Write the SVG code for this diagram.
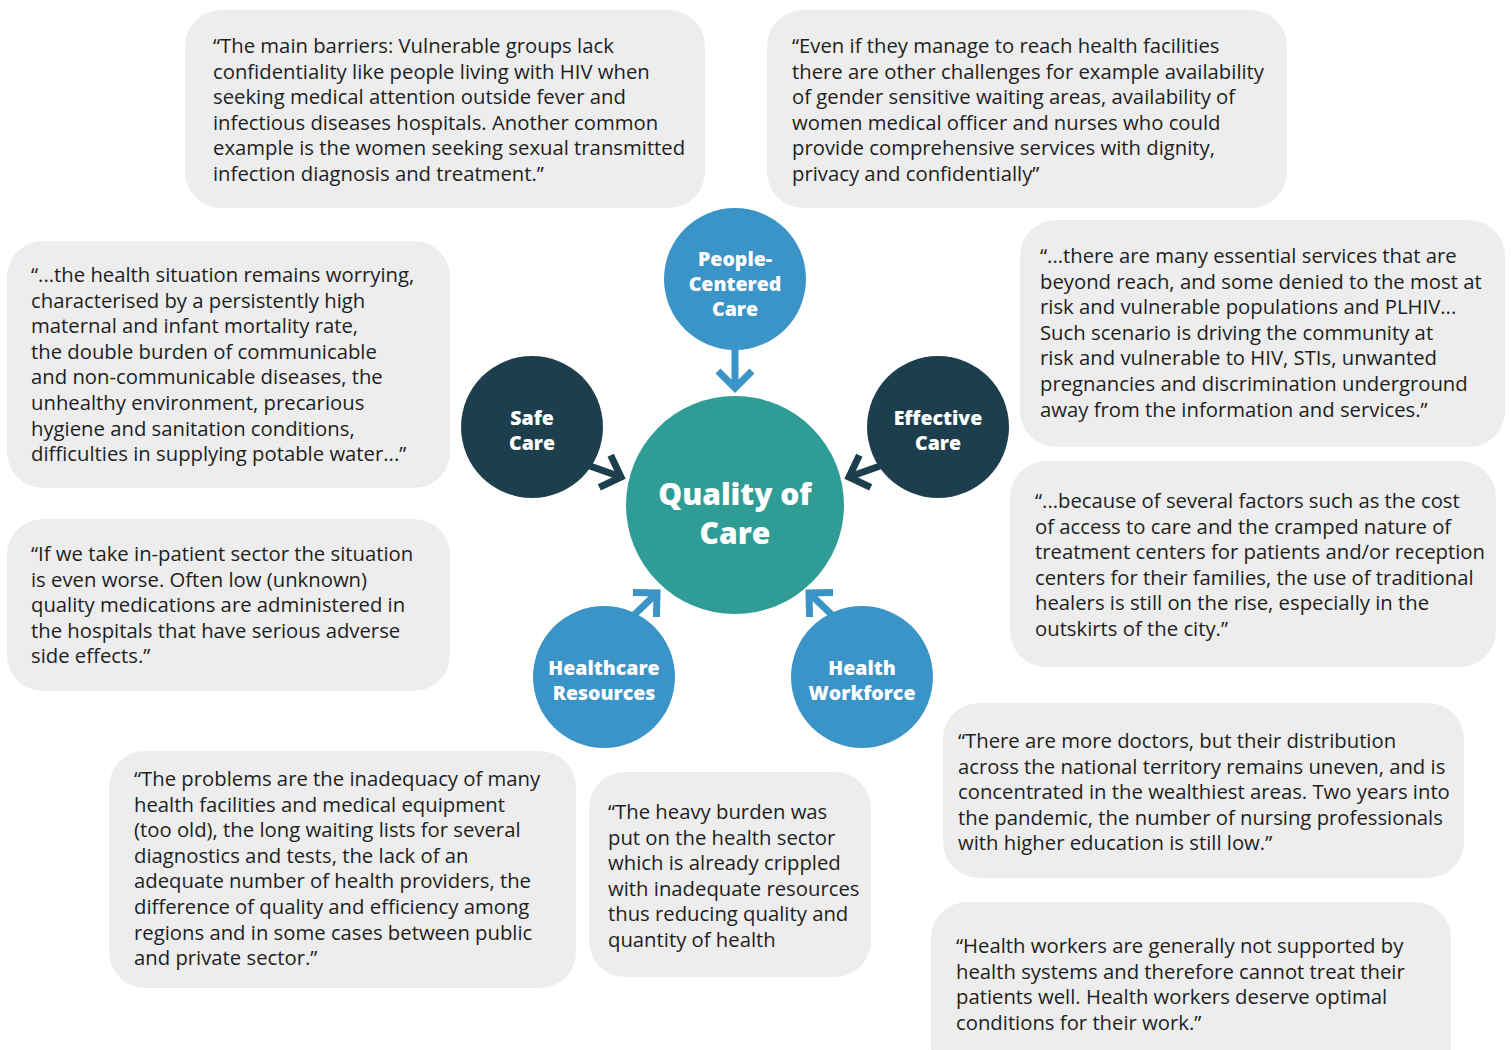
<svg xmlns="http://www.w3.org/2000/svg" width="1511" height="1050" viewBox="0 0 1511 1050">
  <style>
    .quote { fill: #ECEDEC; }
    .qt { font-family: "Open Sans", "Liberation Sans", sans-serif; font-size: 20.3px; fill: #1E1E1E; }
    .blue { fill: #3B94C8; }
    .dark { fill: #1D3F4D; }
    .teal { fill: #2F9D95; }
    .lbl { font-family: "Open Sans", "Liberation Sans", sans-serif; font-weight: 800; font-size: 19.5px; fill: #FFFFFF; text-anchor: middle; }
    .big { font-size: 30px; }
    .arr-blue { stroke: #3B94C8; stroke-width: 7; fill: none; }
    .arr-dark { stroke: #1D3F4D; stroke-width: 7; fill: none; }
  </style>
  <defs>
    <marker id="chev-blue" markerUnits="userSpaceOnUse" orient="auto" overflow="visible" refX="0" refY="0" markerWidth="40" markerHeight="40">
      <path d="M-17,-17 L0,0 L-17,17" stroke="#3B94C8" stroke-width="7" fill="none" stroke-miterlimit="4"/>
    </marker>
    <marker id="chev-dark" markerUnits="userSpaceOnUse" orient="auto" overflow="visible" refX="0" refY="0" markerWidth="40" markerHeight="40">
      <path d="M-17,-17 L0,0 L-17,17" stroke="#1D3F4D" stroke-width="7" fill="none" stroke-miterlimit="4"/>
    </marker>
  </defs>

  <rect width="1511" height="1050" fill="#FFFFFF"/>

  <!-- quote boxes -->
  <g id="quote-barriers">
    <rect class="quote" x="185" y="10" width="520" height="198" rx="36"/>
    <text class="qt" x="213" y="53">
      <tspan x="213">“The main barriers: Vulnerable groups lack</tspan>
      <tspan x="213" dy="25.6">confidentiality like people living with HIV when</tspan>
      <tspan x="213" dy="25.6">seeking medical attention outside fever and</tspan>
      <tspan x="213" dy="25.6">infectious diseases hospitals. Another common</tspan>
      <tspan x="213" dy="25.6">example is the women seeking sexual transmitted</tspan>
      <tspan x="213" dy="25.6">infection diagnosis and treatment.”</tspan>
    </text>
  </g>

  <g id="quote-facilities">
    <rect class="quote" x="767" y="10" width="520" height="198" rx="36"/>
    <text class="qt" x="792" y="53">
      <tspan x="792">“Even if they manage to reach health facilities</tspan>
      <tspan x="792" dy="25.6">there are other challenges for example availability</tspan>
      <tspan x="792" dy="25.6">of gender sensitive waiting areas, availability of</tspan>
      <tspan x="792" dy="25.6">women medical officer and nurses who could</tspan>
      <tspan x="792" dy="25.6">provide comprehensive services with dignity,</tspan>
      <tspan x="792" dy="25.6">privacy and confidentially”</tspan>
    </text>
  </g>

  <g id="quote-health-situation">
    <rect class="quote" x="7" y="241" width="443" height="247" rx="36"/>
    <text class="qt" x="31" y="282">
      <tspan x="31">“...the health situation remains worrying,</tspan>
      <tspan x="31" dy="25.6">characterised by a persistently high</tspan>
      <tspan x="31" dy="25.6">maternal and infant mortality rate,</tspan>
      <tspan x="31" dy="25.6">the double burden of communicable</tspan>
      <tspan x="31" dy="25.6">and non-communicable diseases, the</tspan>
      <tspan x="31" dy="25.6">unhealthy environment, precarious</tspan>
      <tspan x="31" dy="25.6">hygiene and sanitation conditions,</tspan>
      <tspan x="31" dy="25.6">difficulties in supplying potable water...”</tspan>
    </text>
  </g>

  <g id="quote-in-patient">
    <rect class="quote" x="7" y="519" width="443" height="172" rx="36"/>
    <text class="qt" x="31" y="561">
      <tspan x="31">“If we take in-patient sector the situation</tspan>
      <tspan x="31" dy="25.6">is even worse. Often low (unknown)</tspan>
      <tspan x="31" dy="25.6">quality medications are administered in</tspan>
      <tspan x="31" dy="25.6">the hospitals that have serious adverse</tspan>
      <tspan x="31" dy="25.6">side effects.”</tspan>
    </text>
  </g>

  <g id="quote-essential-services">
    <rect class="quote" x="1020" y="220" width="485" height="227" rx="36"/>
    <text class="qt" x="1040" y="263">
      <tspan x="1040">“...there are many essential services that are</tspan>
      <tspan x="1040" dy="25.6">beyond reach, and some denied to the most at</tspan>
      <tspan x="1040" dy="25.6">risk and vulnerable populations and PLHIV...</tspan>
      <tspan x="1040" dy="25.6">Such scenario is driving the community at</tspan>
      <tspan x="1040" dy="25.6">risk and vulnerable to HIV, STIs, unwanted</tspan>
      <tspan x="1040" dy="25.6">pregnancies and discrimination underground</tspan>
      <tspan x="1040" dy="25.6">away from the information and services.”</tspan>
    </text>
  </g>

  <g id="quote-traditional-healers">
    <rect class="quote" x="1010" y="461" width="486" height="206" rx="36"/>
    <text class="qt" x="1035" y="508">
      <tspan x="1035">“...because of several factors such as the cost</tspan>
      <tspan x="1035" dy="25.6">of access to care and the cramped nature of</tspan>
      <tspan x="1035" dy="25.6">treatment centers for patients and/or reception</tspan>
      <tspan x="1035" dy="25.6">centers for their families, the use of traditional</tspan>
      <tspan x="1035" dy="25.6">healers is still on the rise, especially in the</tspan>
      <tspan x="1035" dy="25.6">outskirts of the city.”</tspan>
    </text>
  </g>

  <g id="quote-equipment">
    <rect class="quote" x="109" y="751" width="467" height="237" rx="36"/>
    <text class="qt" x="134" y="786">
      <tspan x="134">“The problems are the inadequacy of many</tspan>
      <tspan x="134" dy="25.6">health facilities and medical equipment</tspan>
      <tspan x="134" dy="25.6">(too old), the long waiting lists for several</tspan>
      <tspan x="134" dy="25.6">diagnostics and tests, the lack of an</tspan>
      <tspan x="134" dy="25.6">adequate number of health providers, the</tspan>
      <tspan x="134" dy="25.6">difference of quality and efficiency among</tspan>
      <tspan x="134" dy="25.6">regions and in some cases between public</tspan>
      <tspan x="134" dy="25.6">and private sector.”</tspan>
    </text>
  </g>

  <g id="quote-heavy-burden">
    <rect class="quote" x="589" y="772" width="282" height="205" rx="36"/>
    <text class="qt" x="608" y="819">
      <tspan x="608">“The heavy burden was</tspan>
      <tspan x="608" dy="25.6">put on the health sector</tspan>
      <tspan x="608" dy="25.6">which is already crippled</tspan>
      <tspan x="608" dy="25.6">with inadequate resources</tspan>
      <tspan x="608" dy="25.6">thus reducing quality and</tspan>
      <tspan x="608" dy="25.6">quantity of health</tspan>
    </text>
  </g>

  <g id="quote-doctors">
    <rect class="quote" x="943" y="703" width="521" height="175" rx="36"/>
    <text class="qt" x="958" y="748">
      <tspan x="958">“There are more doctors, but their distribution</tspan>
      <tspan x="958" dy="25.6">across the national territory remains uneven, and is</tspan>
      <tspan x="958" dy="25.6">concentrated in the wealthiest areas. Two years into</tspan>
      <tspan x="958" dy="25.6">the pandemic, the number of nursing professionals</tspan>
      <tspan x="958" dy="25.6">with higher education is still low.”</tspan>
    </text>
  </g>

  <g id="quote-health-workers">
    <rect class="quote" x="931" y="902" width="520" height="180" rx="36"/>
    <text class="qt" x="956" y="953">
      <tspan x="956">“Health workers are generally not supported by</tspan>
      <tspan x="956" dy="25.6">health systems and therefore cannot treat their</tspan>
      <tspan x="956" dy="25.6">patients well. Health workers deserve optimal</tspan>
      <tspan x="956" dy="25.6">conditions for their work.”</tspan>
    </text>
  </g>

  <!-- central hub and dimension circles -->
  <g id="quality-of-care">
    <circle class="teal" cx="735" cy="505" r="109"/>
    <text class="lbl big" x="735" y="505">Quality of</text>
    <text class="lbl big" x="735" y="544">Care</text>
  </g>

  <g id="people-centered-care">
    <circle class="blue" cx="735" cy="279" r="71"/>
    <text class="lbl" x="735" y="266">People-</text>
    <text class="lbl" x="735" y="291">Centered</text>
    <text class="lbl" x="735" y="316">Care</text>
  </g>

  <g id="safe-care">
    <circle class="dark" cx="532" cy="427" r="71"/>
    <text class="lbl" x="532" y="425">Safe</text>
    <text class="lbl" x="532" y="450">Care</text>
  </g>

  <g id="effective-care">
    <circle class="dark" cx="938" cy="427" r="71"/>
    <text class="lbl" x="938" y="425">Effective</text>
    <text class="lbl" x="938" y="450">Care</text>
  </g>

  <g id="healthcare-resources">
    <circle class="blue" cx="604" cy="677" r="71"/>
    <text class="lbl" x="604" y="675">Healthcare</text>
    <text class="lbl" x="604" y="700">Resources</text>
  </g>

  <g id="health-workforce">
    <circle class="blue" cx="862" cy="677" r="71"/>
    <text class="lbl" x="862" y="675">Health</text>
    <text class="lbl" x="862" y="700">Workforce</text>
  </g>

  <!-- connectors into the hub -->
  <g id="connectors">
    <line class="arr-blue" x1="735" y1="349" x2="735" y2="388" marker-end="url(#chev-blue)"/>
    <line class="arr-dark" x1="590" y1="466" x2="621" y2="477" marker-end="url(#chev-dark)"/>
    <line class="arr-dark" x1="880" y1="466" x2="849" y2="477" marker-end="url(#chev-dark)"/>
    <line class="arr-blue" x1="634" y1="615" x2="657" y2="593" marker-end="url(#chev-blue)"/>
    <line class="arr-blue" x1="832" y1="615" x2="809" y2="593" marker-end="url(#chev-blue)"/>
  </g>
</svg>
